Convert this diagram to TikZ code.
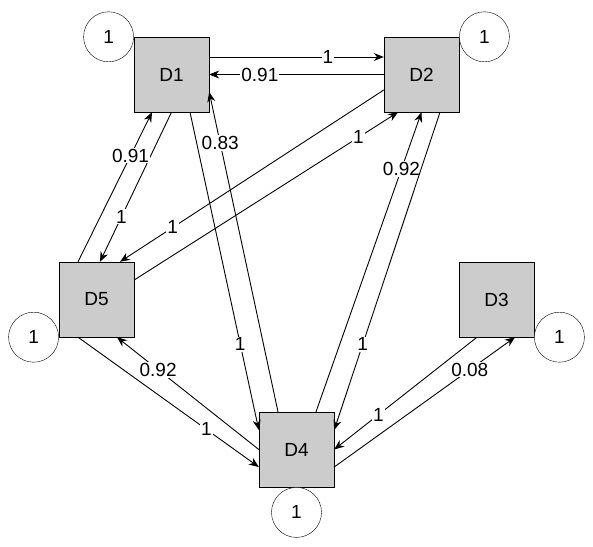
\documentclass[tikz,border=0pt]{standalone}
\usepackage{fontspec}
\setmainfont{Liberation Sans}
\usetikzlibrary{arrows.meta, positioning}
\definecolor{boxgray}{RGB}{204,204,204}
\tikzset{
	dnode/.style={draw, fill=boxgray, minimum size=75pt, inner sep=0pt, font=\fontsize{19}{21}\selectfont},
	selfc/.style={draw, fill=white, circle, minimum size=50pt, inner sep=0pt, font=\fontsize{19}{21}\selectfont},
	link/.style={-{Stealth[length=10pt,width=8pt]}, line width=0.9pt},
	wt/.style={fill=white, inner sep=1pt, font=\fontsize{19}{21}\selectfont}
}

\begin{document}
\begin{tikzpicture}[x=1pt,y=-1pt]
	\useasboundingbox (0,0) rectangle (593,546);
	\node[dnode] (D1) at (171.5,74.5) {D1};
	\node[dnode] (D2) at (421.5,74.5) {D2};
	\node[dnode] (D5) at (96.5,299.5) {D5};
	\node[dnode] (D3) at (496.5,299.5) {D3};
	\node[dnode] (D4) at (296.5,449.5) {D4};
	\node[selfc, left=0pt of D1.north west] (s1) {1};
	\node[selfc, right=0pt of D2.north east] (s2) {1};
	\node[selfc, left=0pt of D5.south west] (s5) {1};
	\node[selfc, right=0pt of D3.south east] (s3) {1};
	\node[selfc, below=0pt of D4.south] (s4) {1};
	\draw[link] ([yshift=17.5pt]D1.east) -- node[wt,pos=0.68]{1} ([yshift=17.5pt]D2.west);
	\draw[link] (D2.west) -- node[wt,pos=0.71]{0.91} (D1.east);
	\draw[link] (D1.south) -- node[wt,pos=0.7]{1} ([xshift=3.5pt]D5.north);
	\draw[link] ([xshift=-18.5pt]D5.north) -- node[wt,pos=0.71]{0.91} ([xshift=-19.5pt]D1.south);
	\draw[link] ([yshift=-15.5pt]D2.west) -- node[wt,pos=0.8]{1} ([xshift=23.5pt]D5.north);
	\draw[link] ([yshift=19.5pt]D5.east) -- node[wt,pos=0.85]{1} ([xshift=-23.5pt]D2.south);
	\draw[link] ([xshift=19.5pt]D4.north) -- node[wt,pos=0.81]{0.92} (D2.south);
	\draw[link] ([xshift=18.5pt]D2.south) -- node[wt,pos=0.73]{1} ([yshift=19.5pt]D4.east);
	\draw[link] ([xshift=18.5pt]D1.south) -- node[wt,pos=0.73]{1} ([yshift=19.5pt]D4.west);
	\draw[link] ([xshift=-18.5pt]D4.north) -- node[wt,pos=0.84]{0.83} ([yshift=-17.5pt]D1.east);
	\draw[link] (D4.west) -- node[wt,pos=0.71]{0.92} ([xshift=20.5pt]D5.south);
	\draw[link] ([xshift=-18.5pt]D5.south) -- node[wt,pos=0.71]{1} ([yshift=-17.5pt]D4.west);
	\draw[link] ([xshift=-19.5pt]D3.south) -- node[wt,pos=0.69]{1} (D4.east);
	\draw[link] ([yshift=-17.5pt]D4.east) -- node[wt,pos=0.75]{0.08} ([xshift=18.5pt]D3.south);
\end{tikzpicture}
\end{document}
